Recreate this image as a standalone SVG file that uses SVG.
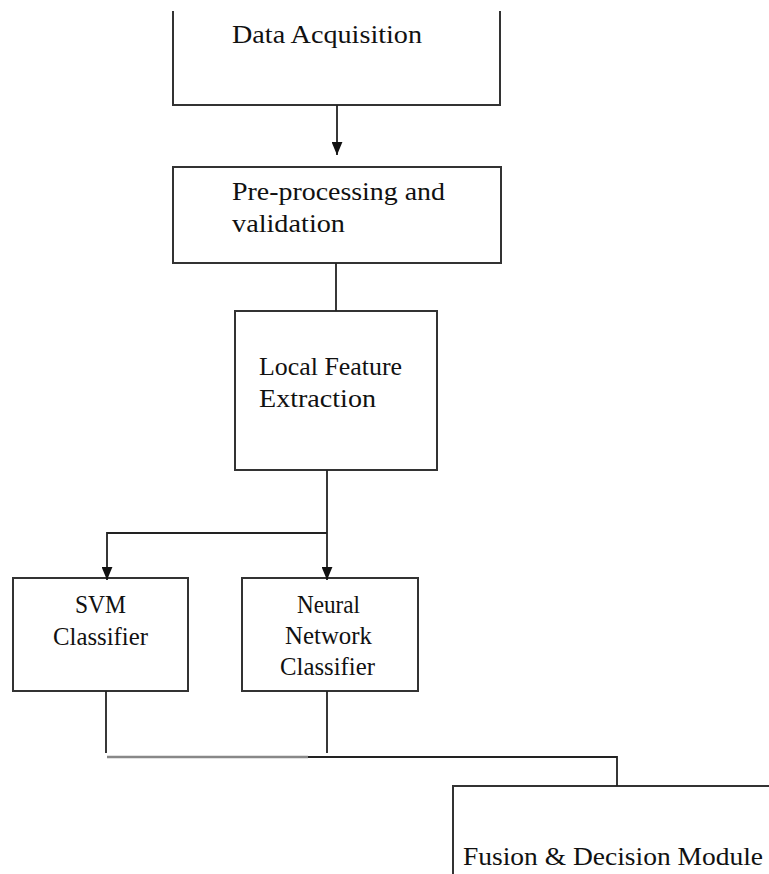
<svg xmlns="http://www.w3.org/2000/svg" width="769" height="874" viewBox="0 0 769 874">
<style>
.box{fill:#fff;stroke:#333;stroke-width:2}
.ln{fill:none;stroke:#222;stroke-width:1.8}
text{font-family:'Liberation Serif','Times New Roman',serif;font-size:25px;fill:#111}
</style>
<defs>
<marker id="ah" viewBox="0 0 12 10" refX="12" refY="5" markerWidth="13" markerHeight="11" markerUnits="userSpaceOnUse" orient="auto">
<path d="M0,0 L12,5 L0,10 Z" fill="#111"/>
</marker>
</defs>
<rect width="769" height="874" fill="#fff"/>
<g id="data-acquisition">
<path class="box" d="M173,11 V105 H500 V11"/>
<text x="232" y="43" textLength="190" lengthAdjust="spacingAndGlyphs">Data Acquisition</text>
</g>
<g id="preprocessing">
<rect class="box" x="173" y="167" width="328" height="96"/>
<text x="232" y="200" textLength="213" lengthAdjust="spacingAndGlyphs">Pre-processing and</text>
<text x="232" y="232" textLength="113" lengthAdjust="spacingAndGlyphs">validation</text>
</g>
<g id="local-feature">
<rect class="box" x="235" y="311" width="202" height="159"/>
<text x="259" y="375" textLength="143" lengthAdjust="spacingAndGlyphs">Local Feature</text>
<text x="259" y="407" textLength="117" lengthAdjust="spacingAndGlyphs">Extraction</text>
</g>
<g id="svm">
<rect class="box" x="13" y="578" width="175" height="113"/>
<text x="75" y="613" textLength="51" lengthAdjust="spacingAndGlyphs">SVM</text>
<text x="53" y="645" textLength="95" lengthAdjust="spacingAndGlyphs">Classifier</text>
</g>
<g id="neural">
<rect class="box" x="242" y="578" width="176" height="113"/>
<text x="297" y="613" textLength="63" lengthAdjust="spacingAndGlyphs">Neural</text>
<text x="285" y="644" textLength="87" lengthAdjust="spacingAndGlyphs">Network</text>
<text x="280" y="675" textLength="95" lengthAdjust="spacingAndGlyphs">Classifier</text>
</g>
<g id="fusion">
<path class="box" d="M770,786 H453 V875"/>
<text x="463" y="865" textLength="300" lengthAdjust="spacingAndGlyphs">Fusion &amp; Decision Module</text>
</g>
<g id="connectors">
<path class="ln" d="M337,105 V155" marker-end="url(#ah)"/>
<path class="ln" d="M336,263 V311"/>
<path class="ln" d="M327,470 V580" marker-end="url(#ah)"/>
<path class="ln" d="M327,533 H107 V580" marker-end="url(#ah)"/>
<path class="ln" d="M106,691 V753"/>
<path class="ln" d="M327,691 V753"/>
<path d="M107,757 H308" fill="none" stroke="#888" stroke-width="2.6"/>
<path class="ln" d="M308,757 H617 V786"/>
</g>
</svg>
